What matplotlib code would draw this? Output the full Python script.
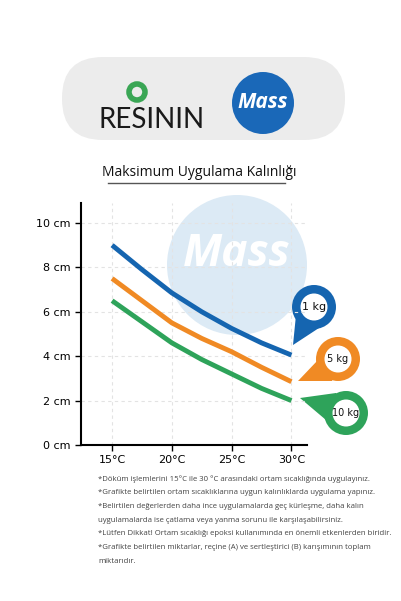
import matplotlib
matplotlib.use("Agg")
import matplotlib.pyplot as plt
from matplotlib.patches import Circle, Polygon, FancyBboxPatch

temps = [15, 17.5, 20, 22.5, 25, 27.5, 30]
kg1 = [9.0, 7.9, 6.85, 6.0, 5.25, 4.6, 4.05]
kg5 = [7.5, 6.5, 5.5, 4.8, 4.2, 3.5, 2.85]
kg10 = [6.5, 5.55, 4.6, 3.85, 3.2, 2.55, 2.0]
xticks = [15, 20, 25, 30]
xlabels = ["15°C", "20°C", "25°C", "30°C"]
yticks = [0, 2, 4, 6, 8, 10]
ylabels = [f"{v} cm" for v in yticks]
labels = ["1 kg", "5 kg", "10 kg"]
colors = ["#1565b0", "#f08a24", "#2ea35a"]

W, H = 401, 601
fig = plt.figure(figsize=(W/100, H/100), dpi=100)
fig.patch.set_facecolor("white")
ov = fig.add_axes([0, 0, 1, 1])
ov.set_xlim(0, W); ov.set_ylim(H, 0); ov.axis("off")

# header pill
ov.add_patch(FancyBboxPatch((62, 57), 283, 83, boxstyle="round,pad=0,rounding_size=41",
                            fc="#ececec", ec="none"))
ov.add_patch(Circle((137, 92), 8, fc="none", ec="#3aa655", lw=4))
ov.text(152, 120, "RESININ", fontsize=20, color="#1a1a1a", ha="center", va="center",
        family="Lato")
ov.add_patch(Circle((263, 103), 31, fc="#1a68b8", ec="none"))
ov.text(263, 103, "Mass", fontsize=15, color="white", ha="center", va="center",
        fontweight="bold", style="italic", family="Open Sans")
ov.text(199, 172, "Maksimum Uygulama Kalınlığı", fontsize=10, color="#111",
        ha="center", va="center", family="Open Sans")
ov.plot([108, 285], [183, 183], color="#555", lw=1)

# watermark
ov.add_patch(Circle((237, 265), 70, fc="#dceaf5", ec="none"))
ov.text(237, 255, "Mass", fontsize=32, color="white", ha="center", va="center",
        fontweight="bold", style="italic", family="Open Sans")

# chart
ax = fig.add_axes([81/W, 1-445/H, (307-81)/W, (445-203)/H])
ax.patch.set_alpha(0)
ax.set_xlim(12.4, 31.3); ax.set_ylim(0, 10.9)
for y, c in zip([kg1, kg5, kg10], colors):
    ax.plot(temps, y, color=c, lw=3.5, solid_capstyle="butt")
ax.set_xticks(xticks); ax.set_xticklabels(xlabels, fontsize=8)
ax.set_yticks(yticks); ax.set_yticklabels(ylabels, fontsize=8)
ax.grid(True, ls=(0, (3, 3)), color="#e3e3e3", lw=0.8)
for s in ["top", "right"]:
    ax.spines[s].set_visible(False)
ax.spines["left"].set_linewidth(1.5); ax.spines["bottom"].set_linewidth(1.5)
ax.tick_params(length=4, width=1)

# pins
pins = [((314, 307), (293, 345), (296, 315), (322, 326)),
        ((338, 359), (298, 381), (332, 381), (318, 360)),
        ((346, 413), (300, 398), (336, 393), (326, 420))]
for i, (ctr, tip, a, b) in enumerate(pins):
    cx, cy = ctr; c = colors[i]
    ov.add_patch(Polygon([tip, a, (cx, cy), b], closed=True, fc=c, ec="none"))
    ov.add_patch(Circle((cx, cy), 22, fc=c, ec="none"))
    ov.add_patch(Circle((cx, cy), 13.5, fc="white", ec="none"))
    ov.text(cx, cy, labels[i], fontsize=8 if i == 0 else 7, ha="center", va="center", color="#111")

notes = ["*Döküm işlemlerini 15°C ile 30 °C arasındaki ortam sıcaklığında uygulayınız.",
         "*Grafikte belirtilen ortam sıcaklıklarına uygun kalınlıklarda uygulama yapınız.",
         "*Belirtilen değerlerden daha ince uygulamalarda geç kürleşme, daha kalın",
         "uygulamalarda ise çatlama veya yanma sorunu ile karşılaşabilirsiniz.",
         "*Lütfen Dikkat! Ortam sıcaklığı epoksi kullanımında en önemli etkenlerden biridir.",
         "*Grafikte belirtilen miktarlar, reçine (A) ve sertleştirici (B) karışımının toplam",
         "miktarıdır."]
for i, t in enumerate(notes):
    ov.text(98, 479 + i*13.7, t, fontsize=5.6, color="#444", va="center", family="Open Sans")

fig.savefig("out.png", dpi=100)
